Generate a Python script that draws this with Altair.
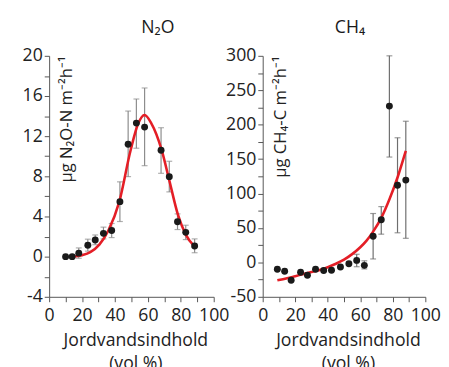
import altair as alt
import pandas as pd

FONT = "Open Sans"

# N2O panel data
n2o_x = [10, 14, 18, 23.5, 28, 33, 38, 43, 48, 53, 58, 68, 73, 78, 83, 88.4]
n2o_y = [0, 0, 0.35, 1.13, 1.65, 2.32, 2.6, 5.48, 11.2, 13.3, 12.9, 10.6, 7.97, 3.48, 2.42, 1.06]
n2o_lo = [0, 0, -0.16, 0.55, 1.19, 1.77, 1.9, 3.5, 7.97, 10.8, 9.06, 8.3, 6.45, 2.7, 1.7, 0.39]
n2o_hi = [0, 0, 0.87, 1.74, 2.16, 2.94, 3.3, 7.45, 14.5, 15.7, 16.8, 12.84, 9.5, 4.26, 3.13, 1.77]
n2o_fit_x = [14, 20, 25, 30.5, 36, 42.5, 49.5, 54, 58, 62, 68.4, 73, 78.4, 83, 88.4]
n2o_fit_y = [0, 0.15, 0.45, 1.2, 2.6, 5.4, 10.6, 13.2, 14.1, 13.3, 10.6, 7.6, 4.1, 2.2, 1.0]

# CH4 panel data
ch4_x = [9, 13.5, 17.5, 23.3, 27.5, 32.5, 37.5, 42.3, 47.8, 53, 57.8, 62.5, 67.9, 72.9, 77.9, 82.9, 88]
ch4_y = [-10, -12.9, -26, -14.3, -18.6, -10, -11.9, -11.4, -6.7, -1.9, 2.9, -4.3, 38, 62, 227, 112, 119.5]
ch4_lo = [-10, -12.9, -26, -14.3, -18.6, -10, -11.9, -11.4, -6.7, -1.9, -6.3, -9.5, 5, 41, 153, 43, 35]
ch4_hi = [-10, -12.9, -26, -14.3, -18.6, -10, -11.9, -11.4, -6.7, -1.9, 11.8, 2.3, 71, 81, 300, 181, 205]
ch4_fit_x = [9, 15, 20, 25, 30, 35, 40, 45, 50, 55, 60, 64, 68, 73, 78, 83, 88]
ch4_fit_y = [-26, -23, -20, -17, -14, -11, -7, -2, 4, 12, 22, 32, 45, 65, 92, 124, 162]

x_ticks = list(range(0, 101, 10))
n2o_ticks = list(range(-4, 21, 2))
ch4_ticks = list(range(-50, 301, 25))


def panel(x, y, lo, hi, fx, fy, ydom, yvals, ymod, ytitle, title, title_dx, width, errcolor):
    pts = pd.DataFrame({"x": x, "y": y, "lo": lo, "hi": hi})
    fit = pd.DataFrame({"x": fx, "y": fy})
    xscale = alt.Scale(domain=[0, 100], nice=False, zero=False)
    yscale = alt.Scale(domain=ydom, nice=False, zero=False)
    xaxis = alt.Axis(
        values=x_ticks,
        labelExpr="datum.value % 20 == 0 ? '' + datum.value : ''",
        title=["Jordvandsindhold", "(vol %)"],
        labelFlush=False,
        labelOverlap=False,
        labelPadding=5,
        titlePadding=8,
        titleFontSize=18,
        titleLineHeight=23,
        titleX=width / 2 + 4,
    )
    yaxis = alt.Axis(
        values=yvals,
        labelExpr=f"datum.value % {ymod} == 0 ? '' + datum.value : ''",
        title=ytitle,
        labelFlush=False,
        labelOverlap=False,
        labelPadding=2,
        titleAngle=270,
        titleAlign="right",
        titleBaseline="alphabetic",
        titleFontSize=17,
        titleX=23,
        titleY=0,
    )
    X = alt.X("x:Q", scale=xscale, axis=xaxis)
    rules = alt.Chart(pts).mark_rule(color=errcolor, strokeWidth=1.2).encode(
        x=X, y=alt.Y("lo:Q", scale=yscale, axis=yaxis), y2="hi:Q"
    )
    cap_lo = alt.Chart(pts).mark_tick(color=errcolor, orient="horizontal", size=6, thickness=1.2).encode(
        x=X, y=alt.Y("lo:Q", scale=yscale, axis=yaxis)
    )
    cap_hi = alt.Chart(pts).mark_tick(color=errcolor, orient="horizontal", size=6, thickness=1.2).encode(
        x=X, y=alt.Y("hi:Q", scale=yscale, axis=yaxis)
    )
    line = alt.Chart(fit).mark_line(color="#e41e26", strokeWidth=2.6, interpolate="monotone").encode(
        x=X, y=alt.Y("y:Q", scale=yscale, axis=yaxis)
    )
    dots = alt.Chart(pts).mark_circle(color="#1a1a1a", opacity=1, size=50).encode(
        x=X, y=alt.Y("y:Q", scale=yscale, axis=yaxis)
    )
    return alt.layer(rules, cap_lo, cap_hi, line, dots).properties(
        width=width,
        height=246,
        title=alt.TitleParams(text=title, dx=title_dx, offset=10, anchor="middle",
                              fontSize=18, font=FONT, fontWeight="normal", color="#1a1a1a"),
    )


left = panel(n2o_x, n2o_y, n2o_lo, n2o_hi, n2o_fit_x, n2o_fit_y, [-4, 20], n2o_ticks, 4,
             "µg N₂O-N m⁻²h⁻¹", "N₂O", 27, 168, "#8c8c8c")
right = panel(ch4_x, ch4_y, ch4_lo, ch4_hi, ch4_fit_x, ch4_fit_y, [-50, 300], ch4_ticks, 50,
              "µg CH₄-C m⁻²h⁻¹", "CH₄", 6, 166, "#6e6e6e")

chart = alt.HConcatChart(hconcat=[left, right], spacing=50, bounds="flush").properties(
    padding={"left": 14, "top": 8, "right": 0, "bottom": 0}
).configure_view(stroke=None).configure_axis(
    grid=False,
    domainColor="#555555",
    tickColor="#555555",
    tickSize=5,
    labelFont=FONT,
    labelFontSize=18,
    labelColor="#222222",
    titleFont=FONT,
    titleFontWeight="normal",
    titleColor="#222222",
)

chart.save("out.html", embed_options={"renderer": "svg", "actions": False})
